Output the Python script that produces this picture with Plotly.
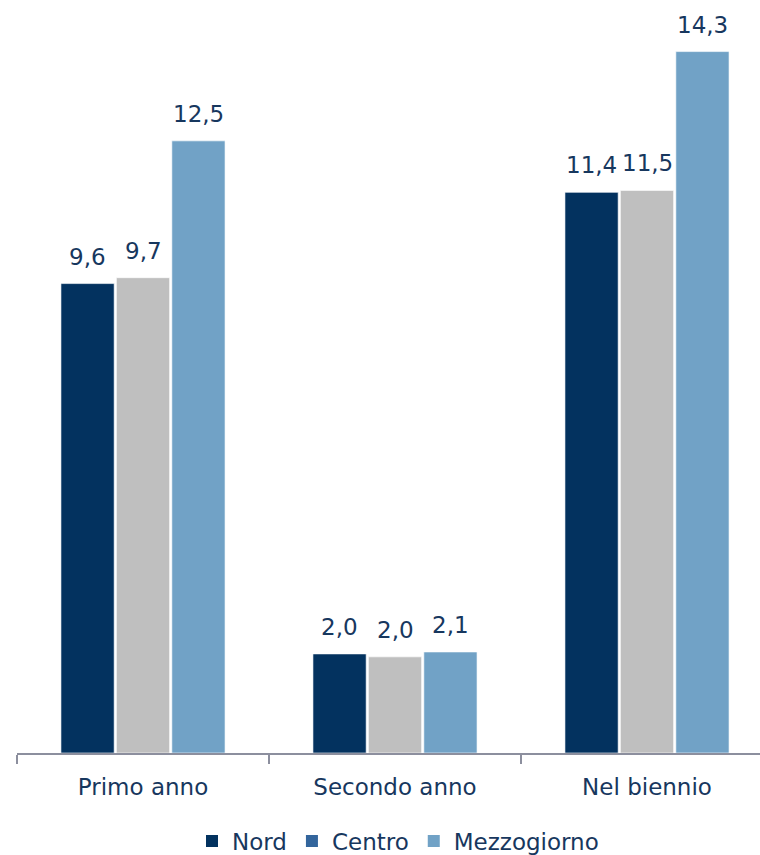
import plotly.graph_objects as go

categories = ["Primo anno", "Secondo anno", "Nel biennio"]
series_names = ["Nord", "Centro", "Mezzogiorno"]
nord = [9.57, 2.02, 11.43]
centro = [9.69, 1.96, 11.47]
mezzogiorno = [12.48, 2.06, 14.3]

bar_colors = ["#03325f", "#bfbfbf", "#71a2c6"]
legend_colors = ["#03325f", "#33659c", "#71a2c6"]
text_color = "#17375e"
FONT = "DejaVu Sans"
FS = 23


def fmt(v):
    return f"{v:.1f}".replace(".", ",")


W, H = 760, 855
ml, mr, mt, mb = 17, 0, 10, 102
plot_w = W - ml - mr
plot_h = H - mt - mb
cat_px = 252
px_per_unit = 49.05
bargap = 0.34
bargroupgap = 0.04
slot_px = cat_px * (1 - bargap) / 3

fig = go.Figure()
annotations = []
for i, (name, vals, bc) in enumerate(zip(series_names, [nord, centro, mezzogiorno], bar_colors)):
    fig.add_trace(go.Bar(
        x=categories, y=vals, name=name, showlegend=False,
        marker=dict(color=bc, line=dict(color="rgba(255,255,255,0.6)", width=1)),
    ))
    for c, v in zip(categories, vals):
        annotations.append(dict(
            x=c, y=v, xref="x", yref="y", text=fmt(v), showarrow=False,
            xanchor="center", yanchor="bottom", xshift=(i - 1) * slot_px, yshift=12,
            font=dict(color=text_color, size=FS, family=FONT),
        ))
for name, lc in zip(series_names, legend_colors):
    fig.add_trace(go.Scatter(
        x=[None], y=[None], mode="markers", name=name,
        marker=dict(symbol="square", size=12, color=lc),
    ))

fig.update_layout(
    width=W, height=H,
    margin=dict(l=ml, r=mr, t=mt, b=mb, pad=0, autoexpand=False),
    paper_bgcolor="white", plot_bgcolor="white",
    barmode="group", bargap=bargap, bargroupgap=bargroupgap,
    font=dict(family=FONT, color=text_color, size=FS),
    annotations=annotations,
    xaxis=dict(
        type="category", automargin=False,
        range=[-0.5, -0.5 + plot_w / cat_px],
        showline=True, linecolor="#8c8f9e", linewidth=2,
        ticks="outside", tickson="boundaries", ticklen=9, tickwidth=1.5, tickcolor="#8c8f9e",
        ticklabelstandoff=12,
        tickfont=dict(size=FS, color=text_color, family=FONT),
        showgrid=False, zeroline=False,
    ),
    yaxis=dict(
        range=[0, plot_h / px_per_unit], automargin=False,
        visible=False, showgrid=False, zeroline=False,
    ),
    legend=dict(
        orientation="h", x=(398 - ml) / plot_w, xanchor="center",
        yref="container", y=(H - 841) / H, yanchor="middle",
        font=dict(size=FS, color=text_color, family=FONT),
        itemwidth=30, tracegroupgap=0,
    ),
)

fig.write_html("out.html")
